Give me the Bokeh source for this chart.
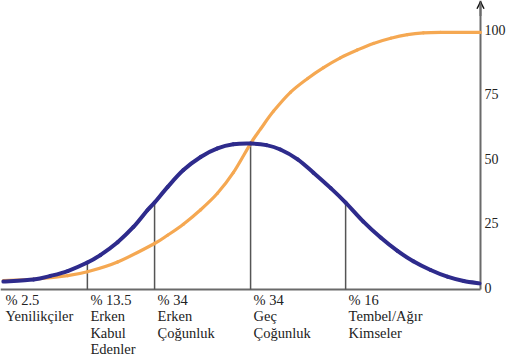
from bokeh.plotting import figure
from bokeh.models import Range1d, Label, Arrow, OpenHead
from bokeh.core.properties import value
from bokeh.embed import file_html
from bokeh.resources import INLINE

# Adoption timeline (0-100) sampled along the two curves
bell_x = [0.6, 6.9, 10.4, 14.0, 18.1, 20.8, 24.4, 27.7, 30.6, 32.1, 34.8, 38.1,
          41.7, 45.2, 48.5, 52.1, 55.4, 58.3, 61.9, 65.2, 68.8, 71.9, 75.6, 79.2,
          82.7, 86.0, 89.6, 93.1, 96.5, 99.8]
bell_y = [2.3, 3.1, 4.5, 6.4, 9.7, 12.6, 17.6, 23.5, 30.0, 33.0, 39.0, 45.6,
          50.7, 54.0, 55.6, 55.9, 55.3, 53.6, 49.8, 44.6, 38.6, 33.0, 25.6, 19.4,
          14.2, 10.2, 6.8, 4.2, 2.5, 1.6]

cum_x = [0.6, 6.9, 14.0, 18.1, 24.4, 32.1, 34.8, 38.1, 41.7, 45.2, 48.5, 52.1,
         54.2, 56.9, 60.4, 64.0, 67.3, 70.8, 74.4, 77.7, 81.3, 84.8, 88.1, 91.7, 100.0]
cum_y = [2.7, 3.2, 4.6, 6.1, 9.9, 17.1, 20.3, 24.6, 30.2, 36.6, 44.6, 55.9,
         61.6, 68.5, 75.8, 81.2, 85.4, 89.2, 92.3, 94.8, 96.8, 98.2, 98.9, 99.1, 99.1]

# Adopter groups
group_share = [2.5, 13.5, 34, 34, 16]
group_names = [["Yenilikçiler"],
               ["Erken", "Kabul", "Edenler"],
               ["Erken", "Çoğunluk"],
               ["Geç", "Çoğunluk"],
               ["Tembel/Ağır", "Kimseler"]]
group_start = [0.0, 18.1, 32.1, 52.1, 71.9]
divider_top = [9.7, 33.0, 55.9, 33.0]   # bell height at each group boundary

y_ticks = [0, 25, 50, 75, 100]

# layout constants (pixels); the plot frame covers the whole canvas
W, H = 518, 364
PX_PER_X = 4.8
PX_PER_Y = 2.575
ZERO_PX = 287.0
SERIF = "Liberation Serif"
AXIS_GREY = "#6a6a6a"


def px_to_y(py):
    return (ZERO_PX - py) / PX_PER_Y


x_end = 100.0           # position of the value axis
base = px_to_y(289)      # baseline level
top = px_to_y(0)

p = figure(width=W, height=H,
           x_range=Range1d(0, W / PX_PER_X), y_range=Range1d(px_to_y(H), top),
           x_axis_location=None, y_axis_location=None,
           toolbar_location=None, output_backend="svg",
           min_border=0)
p.outline_line_color = None
p.grid.visible = False
p.background_fill_color = "white"
p.border_fill_color = "white"


def smooth_curve(fig, xs, ys, **style):
    """Draw a smooth Catmull-Rom curve through the points as cubic Bezier pieces."""
    n = len(xs)
    x0, y0, x1, y1, cx0, cy0, cx1, cy1 = ([] for _ in range(8))
    for i in range(n - 1):
        a = max(i - 1, 0)
        d = min(i + 2, n - 1)
        x0.append(xs[i]); y0.append(ys[i])
        x1.append(xs[i + 1]); y1.append(ys[i + 1])
        cx0.append(xs[i] + (xs[i + 1] - xs[a]) / 6.0)
        cy0.append(ys[i] + (ys[i + 1] - ys[a]) / 6.0)
        cx1.append(xs[i + 1] - (xs[d] - xs[i]) / 6.0)
        cy1.append(ys[i + 1] - (ys[d] - ys[i]) / 6.0)
    fig.bezier(x0=x0, y0=y0, x1=x1, y1=y1, cx0=cx0, cy0=cy0, cx1=cx1, cy1=cy1,
               line_cap="round", **style)


# baseline and value axis
p.line([0, x_end], [base, base], line_color=AXIS_GREY, line_width=2)
p.line([x_end, x_end], [base, top], line_color=AXIS_GREY, line_width=2)
p.add_layout(Arrow(end=OpenHead(size=7, line_color="#111111", line_width=1.5),
                   x_start=x_end, y_start=top - 6, x_end=x_end, y_end=top - 0.5,
                   line_color=AXIS_GREY, line_width=2))

# value axis labels
p.text(x=[x_end] * len(y_ticks), y=y_ticks, text=[str(t) for t in y_ticks],
       x_offset=4, text_baseline="middle", text_align="left",
       text_font=value(SERIF), text_font_size="14px", text_color="#222222")

# group boundaries
div_x = group_start[1:]
p.segment(x0=div_x, y0=[base] * len(div_x), x1=div_x, y1=divider_top,
          line_color="#555555", line_width=1.5)

# cumulative adoption (S-curve) and adopters per period (bell curve)
smooth_curve(p, cum_x, cum_y, line_color="#F5A852", line_width=3.2)
smooth_curve(p, bell_x, bell_y, line_color="#2E2B8C", line_width=4)

# group labels under the baseline
for i, (start, share, names) in enumerate(zip(group_start, group_share, group_names)):
    lines = [f"% {share:g}"] + names
    for j, txt in enumerate(lines):
        p.add_layout(Label(x=start, y=px_to_y(299 + 16.5 * j),
                           x_offset=5 if i == 0 else 3,
                           text=txt, text_baseline="middle", text_align="left",
                           text_font=SERIF, text_font_size="14.5px",
                           text_color="#222222"))

open("out.html", "w").write(file_html(p, INLINE))
